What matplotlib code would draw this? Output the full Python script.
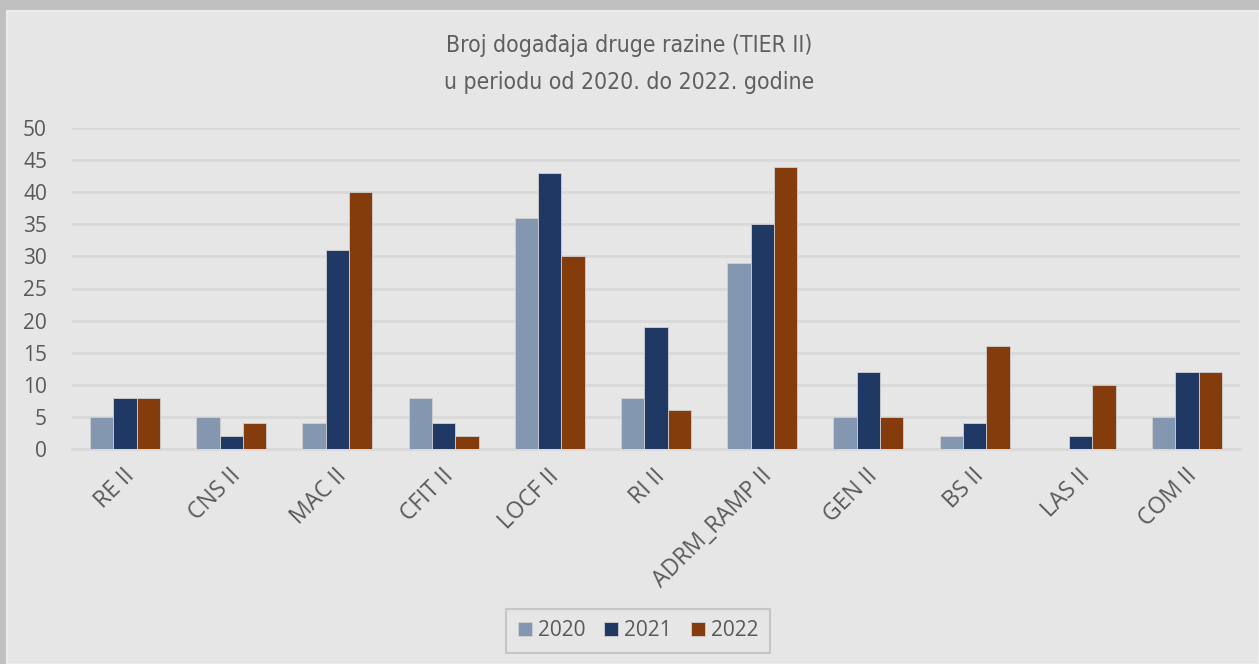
import matplotlib.pyplot as plt
import numpy as np
from matplotlib.patches import Rectangle
from matplotlib.transforms import ScaledTranslation

categories = ['RE II', 'CNS II', 'MAC II', 'CFIT II', 'LOCF II', 'RI II',
              'ADRM_RAMP II', 'GEN II', 'BS II', 'LAS II', 'COM II']
years = ['2020', '2021', '2022']
values_2020 = [5, 5, 4, 8, 36, 8, 29, 5, 2, 0, 5]
values_2021 = [8, 2, 31, 4, 43, 19, 35, 12, 4, 2, 12]
values_2022 = [8, 4, 40, 2, 30, 6, 44, 5, 16, 10, 12]
colors = ['#8497b0', '#1f3864', '#843c0c']

fig = plt.figure(figsize=(12.59, 6.64), dpi=100, facecolor='#c0c0c0')

# inner light panel
panel = Rectangle((7 / 1259, 0), 1 - 7 / 1259, 653 / 664, transform=fig.transFigure,
                  facecolor='#e6e6e6', edgecolor='#ececec', linewidth=1.5, zorder=-10)
fig.patches.append(panel)

ax = fig.add_axes([72 / 1259, 1 - 449 / 664, 1168 / 1259, 321 / 664], zorder=1)
ax.set_facecolor('none')

x = np.arange(len(categories))
width = 0.22
series = [values_2020, values_2021, values_2022]
for i, (vals, year, col) in enumerate(zip(series, years, colors)):
    ax.bar(x + (i - 1) * width, vals, width, color=col, label=year,
           edgecolor='#d0d0d0', linewidth=0.6, zorder=3)

ax.set_xlim(-0.5, len(categories) - 0.5)
ax.set_ylim(0, 50)
ax.set_yticks(range(0, 51, 5))
ax.yaxis.grid(True, color='#d9d9d9', linewidth=2, zorder=0)
ax.set_axisbelow(True)
for s in ['top', 'right', 'left']:
    ax.spines[s].set_visible(False)
ax.spines['bottom'].set_color('#d9d9d9')
ax.spines['bottom'].set_linewidth(2)
ax.tick_params(axis='both', length=0, colors='#595959', labelsize=15)
ax.tick_params(axis='y', pad=18)
ax.tick_params(axis='x', pad=17)
ax.set_xticks(x)
ax.set_xticklabels(categories, rotation=45, ha='right', va='center',
                   rotation_mode='anchor', fontfamily='Open Sans', fontsize=16.5)
shift = ScaledTranslation(6 / 100, 0, fig.dpi_scale_trans)
for lab in ax.get_xticklabels():
    lab.set_transform(lab.get_transform() + shift)
for lab in ax.get_yticklabels():
    lab.set_fontfamily('Open Sans')

fig.text(0.5, 1 - 64 / 664, 'Broj događaja druge razine (TIER II)\nu periodu od 2020. do 2022. godine',
         ha='center', va='center', fontsize=16.5, color='#5f5f5f',
         family=['Liberation Sans Narrow', 'DejaVu Sans'], fontstretch='condensed',
         linespacing=1.75)

leg = fig.legend(loc='center', bbox_to_anchor=(638 / 1259, 1 - 631 / 664), ncol=3,
                 frameon=True, handlelength=0.67, handleheight=0.67,
                 columnspacing=0.9, handletextpad=0.3, borderpad=0.55,
                 prop={'family': 'Open Sans', 'size': 15})
leg.get_frame().set_facecolor('#e6e6e6')
leg.get_frame().set_edgecolor('#bfbfbf')
leg.get_frame().set_linewidth(1.5)
leg.get_frame().set_boxstyle('square', pad=0)
for t in leg.get_texts():
    t.set_color('#595959')

fig.savefig('out.png', dpi=100, facecolor=fig.get_facecolor())
